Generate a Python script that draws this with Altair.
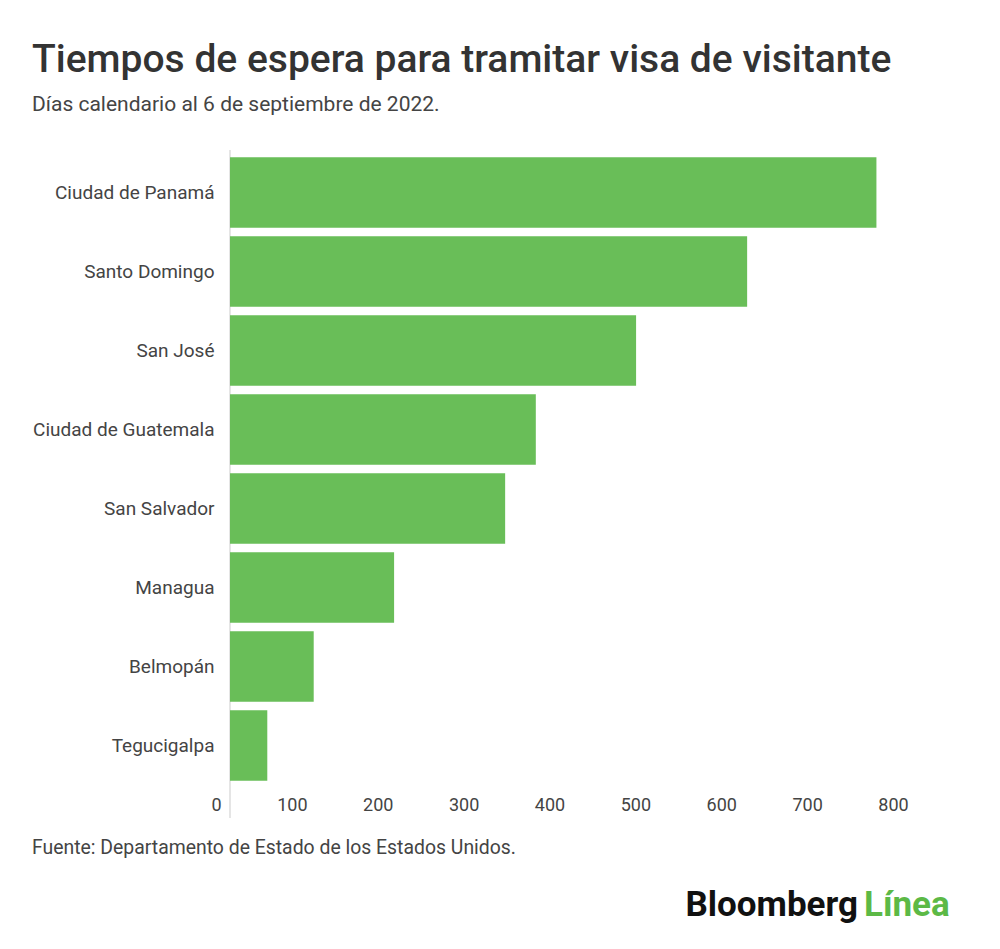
import altair as alt
import pandas as pd

cities = ["Ciudad de Panamá", "Santo Domingo", "San José", "Ciudad de Guatemala",
          "San Salvador", "Managua", "Belmopán", "Tegucigalpa"]
days = [780, 624, 490, 369, 332, 198, 101, 45]
x_ticks = [0, 100, 200, 300, 400, 500, 600, 700, 800]

df = pd.DataFrame({"ciudad": cities, "dias": days})

W, H = 663, 632
FONT = "Roboto"

bars = alt.Chart(df).mark_bar(color="#69be58").encode(
    x=alt.X("dias:Q", scale=alt.Scale(domain=[0, 800], nice=False),
            axis=alt.Axis(values=x_ticks, grid=False, domain=False, ticks=False,
                          labelPadding=11, labelFontSize=18, labelColor="#444",
                          labelFont=FONT, title=None, labelFlush=False,
                          labelOffset=alt.ExprRef("datum.value == 0 ? -14 : (datum.value - 800) * 0.03"))),
    y=alt.Y("ciudad:N", sort=cities,
            scale=alt.Scale(paddingInner=0.11, paddingOuter=0.055),
            axis=alt.Axis(domain=False, ticks=False, labelPadding=16, labelFontSize=19,
                          labelColor="#444", labelFont=FONT, title=None, labelLimit=300)),
)

axis_line = alt.Chart(pd.DataFrame({"z": [0]})).mark_rule(color="#dddddd", strokeWidth=1.5).encode(
    x="z:Q", y=alt.value(-3), y2=alt.value(665)
)

footer = alt.Chart(pd.DataFrame({"t": ["Fuente: Departamento de Estado de los Estados Unidos."]})).mark_text(
    align="left", baseline="middle", fontSize=19.4, font=FONT, color="#444"
).encode(text="t:N", x=alt.value(-198), y=alt.value(695))

logo1 = alt.Chart(pd.DataFrame({"t": ["Bloomberg"]})).mark_text(
    align="right", baseline="middle", fontSize=35, font=FONT, fontWeight="bold", color="#111"
).encode(text="t:N", x=alt.value(628), y=alt.value(752))

logo2 = alt.Chart(pd.DataFrame({"t": ["Línea"]})).mark_text(
    align="left", baseline="middle", fontSize=35, font=FONT, fontWeight="bold", color="#5cb946"
).encode(text="t:N", x=alt.value(634), y=alt.value(752))

chart = alt.layer(axis_line, bars, footer, logo1, logo2).properties(
    width=W, height=H,
    background="white",
    title=alt.TitleParams(
        text="Tiempos de espera para tramitar visa de visitante",
        subtitle="Días calendario al 6 de septiembre de 2022.",
        anchor="start", frame="group", dx=-198, offset=34,
        font=FONT, fontSize=39, fontWeight=500, color="#333",
        subtitleFont=FONT, subtitleFontSize=21, subtitleColor="#444", subtitlePadding=14,
    ),
    autosize=alt.AutoSizeParams(type="none"),
    padding={"left": 222, "top": 145, "right": 95, "bottom": 156},
).configure_view(stroke=None)

chart.save("out.html", embed_options={"renderer": "svg", "actions": False})
